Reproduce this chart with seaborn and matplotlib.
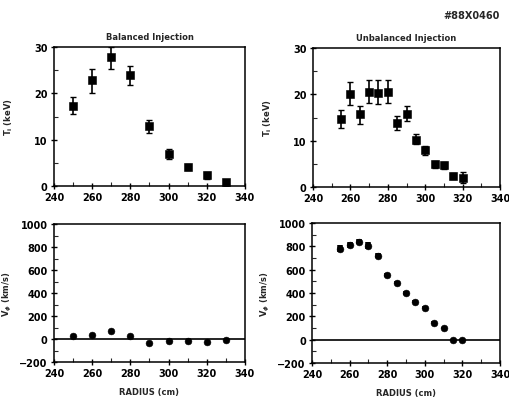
import numpy as np
import pandas as pd
import matplotlib
matplotlib.use("Agg")
import matplotlib.pyplot as plt
import seaborn as sns
from matplotlib.ticker import MultipleLocator

# ---- data ----
bal_r = [250, 260, 270, 280, 290, 300, 310, 320, 330]
bal_ti = [17.3, 22.8, 27.8, 23.9, 12.9, 6.8, 4.2, 2.3, 0.8]
bal_ti_lo = [15.6, 20.1, 25.2, 21.7, 11.5, 5.9, 3.4, 1.6, 0.1]
bal_ti_hi = [19.2, 25.3, 30.0, 26.0, 14.2, 7.9, 4.8, 3.0, 1.4]
bal_v = [23, 35, 67, 23, -35, -20, -15, -29, -12]

unb_r = [255, 260, 265, 270, 275, 280, 285, 290, 295, 300, 305, 310, 315, 320]
unb_ti = [14.7, 20.1, 15.7, 20.5, 20.3, 20.5, 13.9, 15.8, 10.2, 7.9, 4.9, 4.7, 2.4, 2.0]
unb_ti_lo = [12.8, 17.8, 13.5, 18.2, 18.0, 18.2, 12.4, 14.2, 9.2, 6.9, 4.2, 3.8, 1.8, 0.8]
unb_ti_hi = [16.7, 22.6, 17.5, 23.1, 23.1, 23.1, 15.4, 17.4, 11.4, 8.9, 5.7, 5.4, 3.0, 3.3]
unb_v = [780, 810, 840, 805, 720, 555, 490, 400, 325, 275, 145, 100, 0, 0]
unb_v_err = [30, 25, 20, 30, 20, 15, 15, 15, 12, 12, 12, 12, 8, 8]

titles = ["Balanced Injection", "Unbalanced Injection"]
ti_label = r"T$_{\rm i}$ (keV)"
v_label = r"V$_{\phi}$ (km/s)"
x_label = "RADIUS (cm)"
tag = "#88X0460"

sns.set_theme(style="white")
plt.rcParams['font.family'] = ['DejaVu Sans']
plt.rcParams['font.weight'] = 'bold'

fig = plt.figure(figsize=(5.10, 4.02), dpi=100)
W, H = 510, 402
def add_ax(l, r, t, b):
    return fig.add_axes([l / W, 1 - b / H, (r - l) / W, (b - t) / H])

ax_tl = add_ax(54, 245, 48, 187)
ax_tr = add_ax(313, 500, 49, 188)
ax_bl = add_ax(54, 245, 225, 363)
ax_br = add_ax(312, 500, 224, 364)

def style(ax, ymaj, ymin):
    ax.set_xlim(240, 340)
    ax.xaxis.set_major_locator(MultipleLocator(20))
    ax.xaxis.set_minor_locator(MultipleLocator(10))
    ax.yaxis.set_major_locator(MultipleLocator(ymaj))
    ax.yaxis.set_minor_locator(MultipleLocator(ymin))
    ax.tick_params(which='major', direction='inout', length=5, width=1,
                   labelsize=7, colors='black', pad=2,
                   bottom=True, left=True, top=False, right=False)
    ax.tick_params(which='minor', direction='in', length=3, width=0.8,
                   bottom=True, left=True)
    for s in ax.spines.values():
        s.set_color('black')
        s.set_linewidth(1.1)
    for lab in ax.get_xticklabels() + ax.get_yticklabels():
        lab.set_fontweight('bold')

# Ti panels
for ax, r, ti, lo, hi, title in [(ax_tl, bal_r, bal_ti, bal_ti_lo, bal_ti_hi, titles[0]),
                                 (ax_tr, unb_r, unb_ti, unb_ti_lo, unb_ti_hi, titles[1])]:
    df = pd.DataFrame({"r": r, "ti": ti})
    yerr = [np.array(ti) - np.array(lo), np.array(hi) - np.array(ti)]
    ax.errorbar(r, ti, yerr=yerr, fmt='none', ecolor='black', elinewidth=1.2,
                capsize=2.2, capthick=1)
    sns.scatterplot(data=df, x="r", y="ti", ax=ax, marker='s', s=26,
                    color='black', edgecolor='black', zorder=3)
    ax.set_ylim(0, 30)
    style(ax, 10, 5)
    ax.set_xlabel("")
    ax.set_ylabel(ti_label, fontsize=6, fontweight='bold', labelpad=14)
    ax.set_title(title, fontsize=6, fontweight='bold', pad=6)

# Velocity panels
for ax, r, v, err in [(ax_bl, bal_r, bal_v, None), (ax_br, unb_r, unb_v, unb_v_err)]:
    df = pd.DataFrame({"r": r, "v": v})
    if err is not None:
        ax.errorbar(r, v, yerr=err, fmt='none', ecolor='black', elinewidth=4, capsize=0)
    sns.scatterplot(data=df, x="r", y="v", ax=ax, marker='o', s=24,
                    color='black', edgecolor='black', zorder=3)
    ax.axhline(0, color='black', lw=1.2, zorder=2)
    ax.set_ylim(-200, 1000)
    style(ax, 200, 100)
    ax.set_xlabel(x_label, fontsize=6, fontweight='bold', labelpad=6)
    ax.set_ylabel(v_label, fontsize=6, fontweight='bold', labelpad=4)

fig.text(500 / W, 1 - 16 / H, tag, fontsize=7, fontweight='bold', ha='right', va='center')

fig.savefig("out.png", dpi=100)
